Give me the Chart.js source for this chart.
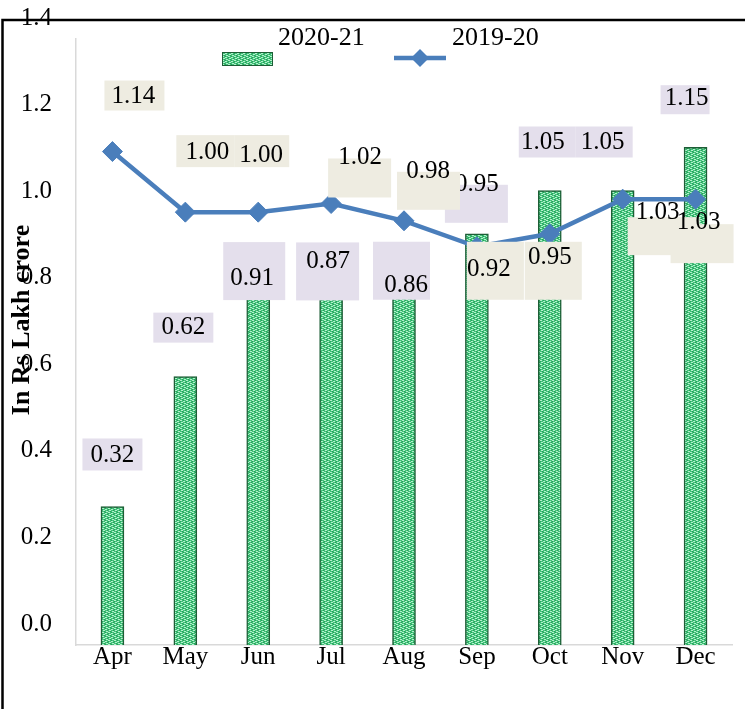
<!DOCTYPE html>
<html>
<head>
<meta charset="utf-8">
<script src="https://cdn.jsdelivr.net/npm/chart.js@4.4.0/dist/chart.umd.min.js"></script>
<style>
  html, body { margin: 0; padding: 0; background: #fff; }
</style>
</head>
<body>
<canvas id="chartMonthly" width="745" height="709"></canvas>
<script>
/* Datos */
const months = ['Apr', 'May', 'Jun', 'Jul', 'Aug', 'Sep', 'Oct', 'Nov', 'Dec'];
const values2021 = [0.32, 0.62, 0.91, 0.87, 0.86, 0.95, 1.05, 1.05, 1.15];
const values1920 = [1.14, 1.00, 1.00, 1.02, 0.98, 0.92, 0.95, 1.03, 1.03];
const yTicks = [0.0, 0.2, 0.4, 0.6, 0.8, 1.0, 1.2, 1.4];

/* label nudges: text dx, dy from the mark, then box left, top, right, bottom around the text */
const barLabelNudge = [
  [0, -51, -30, -17, 30, 15],
  [-2, -49, -30, -15, 30, 15],
  [-6, 27, -29, -36, 33, 22],
  [-3, -7, -32, -19, 31, 39],
  [2, 13, -33, -44, 24, 14],
  [0, -49, -32, 0, 31, 38],
  [-7, -48, -24, -16, 33, 15],
  [-20, -48, -27, -16, 30, 15],
  [-9, -49, -26, -13, 23, 16],
];
const lineLabelNudge = [
  [21, -55, -29, -16, 31, 14],
  [22, -60, -31, -17, 27, 15],
  [3, -57, -27, -20, 28, 12],
  [29, -46, -32, 1, 31, 40],
  [24, -49, -31, 0, 32, 38],
  [12, 23, -22, -28, 35, 30],
  [0, 24, -25, -16, 32, 42],
  [35, 13, -30, 5, 42, 43],
  [3, 23, -28, 2, 35, 41],
];

const serif = '"Liberation Serif", "Times New Roman", serif';

const ctx = document.getElementById('chartMonthly').getContext('2d');

/* Relleno verde tejido */
const makeWeave = (g) => {
  const c = document.createElement('canvas');
  c.width = 6;
  c.height = 4;
  const p = c.getContext('2d');
  p.fillStyle = '#3fc178';
  p.fillRect(0, 0, 6, 4);
  p.fillStyle = '#b3efcc';
  [[0, 0], [1, 0], [3, 1], [4, 1], [1, 2], [2, 2], [4, 3], [5, 3]].forEach(([x, y]) => p.fillRect(x, y, 1, 1));
  p.fillStyle = '#27a05a';
  [[3, 0], [0, 1], [5, 2], [2, 3]].forEach(([x, y]) => p.fillRect(x, y, 1, 1));
  return g.createPattern(c, 'repeat');
};
const weave = makeWeave(ctx);

const labelBoxes = {
  id: 'labelBoxes',
  afterDatasetsDraw(chart) {
    const c = chart.ctx;
    c.save();
    c.font = '25px ' + serif;
    c.textAlign = 'center';
    c.textBaseline = 'middle';
    [[0, barLabelNudge, '#e4dfec'], [1, lineLabelNudge, '#eeece1']].forEach(([di, nudge, fill]) => {
      const meta = chart.getDatasetMeta(di);
      meta.data.forEach((el, i) => {
        const [dx, dy, bl, bt, br, bb] = nudge[i];
        const tx = el.x + dx;
        const ty = el.y + dy;
        c.fillStyle = fill;
        c.fillRect(tx + bl, ty + bt, br - bl, bb - bt);
        c.fillStyle = '#000';
        c.fillText(chart.data.datasets[di].data[i].toFixed(2), tx, ty);
      });
    });
    c.restore();
  },
};

const decorations = {
  id: 'decorations',
  afterDraw(chart) {
    const c = chart.ctx;
    c.save();
    // legend
    c.fillStyle = weave;
    c.fillRect(222, 52, 50, 13);
    c.strokeStyle = '#1d5e36';
    c.lineWidth = 1;
    c.strokeRect(222.5, 52.5, 50, 13);
    c.strokeStyle = '#4a7ebb';
    c.lineWidth = 4.5;
    c.beginPath();
    c.moveTo(394, 58);
    c.lineTo(446, 58);
    c.stroke();
    c.fillStyle = '#4a7ebb';
    c.beginPath();
    c.moveTo(420, 49);
    c.lineTo(429, 58);
    c.lineTo(420, 67);
    c.lineTo(411, 58);
    c.closePath();
    c.fill();
    c.fillStyle = '#000';
    c.font = '26px ' + serif;
    c.textBaseline = 'middle';
    c.textAlign = 'left';
    c.fillText('2020-21', 278, 38);
    c.fillText('2019-20', 452, 38);
    // axis title
    c.translate(22, 320);
    c.rotate(-Math.PI / 2);
    c.font = 'bold 26px ' + serif;
    c.textAlign = 'center';
    c.fillText('In Rs Lakh crore', 0, 0);
    c.restore();
    // frame
    c.save();
    c.strokeStyle = '#000';
    c.lineWidth = 2.5;
    c.beginPath();
    c.moveTo(2.5, 709);
    c.lineTo(2.5, 20);
    c.lineTo(745, 20);
    c.stroke();
    c.restore();
  },
};

const chartMonthly = new Chart(ctx, {
  type: 'bar',
  data: {
    labels: months,
    datasets: [
      {
        label: '2020-21',
        data: values2021,
        backgroundColor: weave,
        borderColor: '#1d5e36',
        borderWidth: 1.5,
        barThickness: 23,
        order: 2,
      },
      {
        type: 'line',
        label: '2019-20',
        data: values1920,
        borderColor: '#4a7ebb',
        backgroundColor: '#4a7ebb',
        borderWidth: 4.5,
        pointStyle: 'rectRot',
        pointRadius: 10,
        pointBorderWidth: 1,
        tension: 0,
        order: 1,
      },
    ],
  },
  options: {
    responsive: false,
    animation: false,
    layout: {
      padding: { top: 38, right: 13, left: 0, bottom: 0 },
    },
    scales: {
      x: {
        grid: { display: false, drawTicks: false },
        border: { color: '#d9d9d9', width: 1.5 },
        ticks: { color: '#000', font: { family: serif, size: 25 }, padding: -3, maxRotation: 0 },
        afterFit: (scale) => { scale.height = 64; },
      },
      y: {
        min: 0,
        max: 1.4,
        grid: { display: false, drawTicks: false },
        border: { color: '#d9d9d9', width: 1.5 },
        afterBuildTicks: (scale) => { scale.ticks = yTicks.map((v) => ({ value: v })); },
        ticks: {
          color: '#000',
          font: { family: serif, size: 25 },
          padding: 24,
          labelOffset: -21,
          callback: (v) => Number(v).toFixed(1),
        },
        afterFit: (scale) => { scale.width = 76; },
      },
    },
    plugins: {
      legend: { display: false },
      tooltip: { enabled: false },
    },
  },
  plugins: [labelBoxes, decorations],
});
</script>
</body>
</html>
